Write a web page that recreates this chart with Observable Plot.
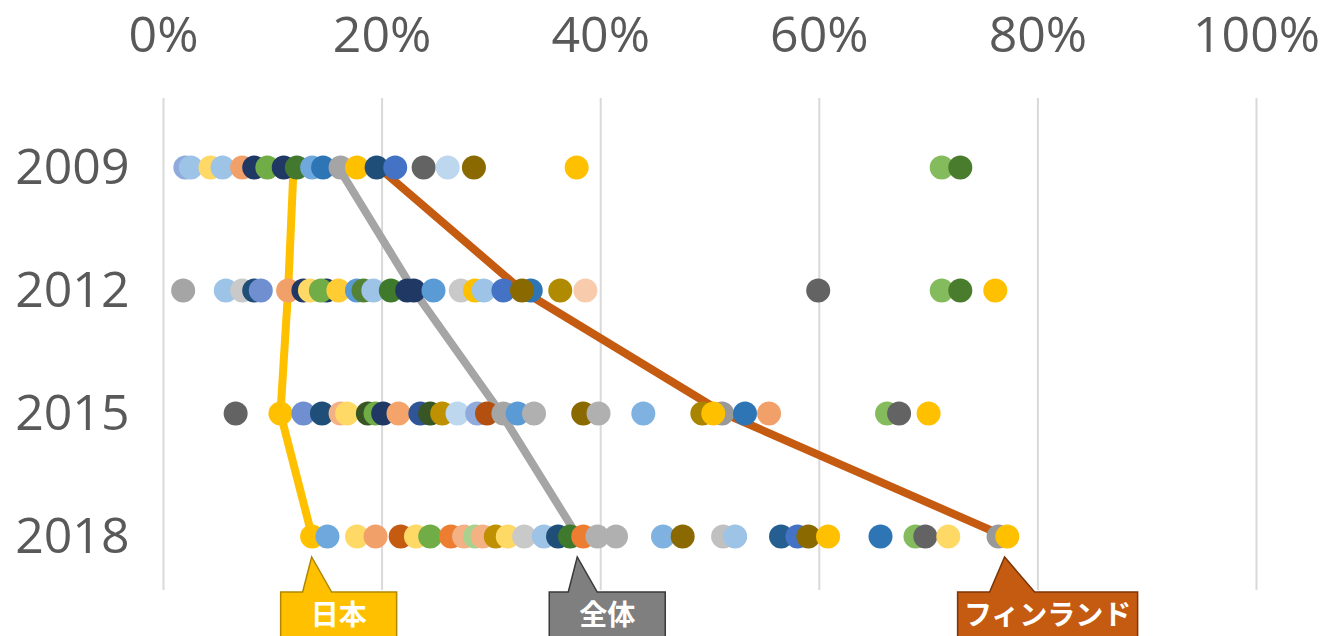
<!DOCTYPE html>
<html>
<head>
<meta charset="utf-8">
<script src="https://cdn.jsdelivr.net/npm/d3@7"></script>
<script src="https://cdn.jsdelivr.net/npm/@observablehq/plot@0.6"></script>
<style>
  html, body { margin: 0; padding: 0; background: #ffffff; }
  #chart { width: 1323px; height: 636px; overflow: hidden; }
</style>
</head>
<body>
<div id="chart"></div>
<script>
// ---------- data ----------
const years = ["2009", "2012", "2015", "2018"];
const xTicks = [0, 20, 40, 60, 80, 100];

const vals2009 = [2.0, 2.5, 4.3, 5.4, 7.2, 8.3, 9.5, 11.0, 12.2, 13.6, 14.6, 16.2, 17.7, 19.5, 21.2, 23.8, 26.0, 28.4, 37.8, 71.2, 72.9];
const cols2009 = ["#8faadc", "#9dc3e6", "#ffd966", "#9dc3e6", "#f2a06a", "#1f3864", "#70ad47", "#203864", "#43782f", "#6fa8dc", "#2e75b6", "#a5a5a5", "#ffc000", "#1f4e79", "#4472c4", "#636363", "#bdd7ee", "#8a6a00", "#ffc000", "#84bb5c", "#4a7c2e"];

const vals2012 = [1.8, 5.7, 7.2, 8.3, 8.9, 11.4, 12.8, 13.4, 14.9, 14.4, 16.0, 17.7, 18.3, 19.2, 20.8, 22.3, 22.9, 24.7, 27.2, 28.5, 29.3, 31.1, 33.6, 32.8, 36.3, 38.6, 59.9, 71.2, 72.9, 76.1];
const cols2012 = ["#a5a5a5", "#9dc3e6", "#c9c9c9", "#1f4e79", "#6f8fd0", "#f2a06a", "#203864", "#ffd966", "#1f3864", "#70ad47", "#ffcc33", "#5b9bd5", "#548235", "#9dc3e6", "#3f7a2c", "#203864", "#1f3864", "#5b9bd5", "#c9c9c9", "#ffc000", "#9dc3e6", "#4472c4", "#2e75b6", "#8a6a00", "#b08a00", "#f8cbad", "#636363", "#84bb5c", "#4a7c2e", "#ffc000"];

const vals2015 = [6.6, 10.7, 12.8, 14.5, 16.2, 16.8, 18.7, 19.4, 20.1, 21.5, 23.5, 24.4, 25.5, 26.9, 28.7, 29.6, 31.1, 32.4, 33.9, 38.4, 39.8, 43.9, 49.3, 51.1, 50.3, 53.2, 55.4, 66.2, 67.3, 70.0];
const cols2015 = ["#636363", "#ffc000", "#6f8fd0", "#1f4e79", "#f4b183", "#ffd966", "#375623", "#70ad47", "#203864", "#f4a46a", "#2f5597", "#375623", "#bf9000", "#bdd7ee", "#8faadc", "#b4500f", "#a5a5a5", "#5b9bd5", "#b0b0b0", "#8a6a00", "#b0b0b0", "#7fb2e0", "#a88400", "#999999", "#ffc000", "#2e75b6", "#f2a06a", "#84bb5c", "#636363", "#ffc000"];

const vals2018 = [13.6, 15.0, 17.7, 19.4, 21.7, 23.1, 24.4, 26.3, 27.5, 28.5, 29.2, 30.4, 31.5, 33.0, 34.8, 36.1, 37.2, 38.4, 39.7, 41.4, 45.7, 47.5, 51.2, 52.3, 56.5, 58.0, 59.0, 60.8, 65.6, 68.8, 69.7, 71.8, 76.4, 77.2];
const cols2018 = ["#ffc000", "#6fa8dc", "#ffd966", "#f2a06a", "#c55a11", "#ffd966", "#70ad47", "#ed7d31", "#f4b183", "#a9d18e", "#f4b183", "#bf9000", "#ffd966", "#c9c9c9", "#9dc3e6", "#1f4e79", "#3f7a2c", "#ed7d31", "#b0b0b0", "#b0b0b0", "#7fb2e0", "#8a6a00", "#c0c0c0", "#9dc3e6", "#255e91", "#4472c4", "#8a6a00", "#ffc000", "#2e75b6", "#84bb5c", "#636363", "#ffd966", "#999999", "#ffc000"];

const japan   = [11.9, 11.4, 10.7, 13.6];
const overall = [16.0, 22.9, 30.9, 37.9];
const finland = [19.7, 32.8, 51.3, 77.0];

const seriesNames  = ["日本", "全体", "フィンランド"];
const seriesColors = ["#ffc000", "#a5a5a5", "#c55a11"];
const calloutFill   = ["#ffc000", "#7f7f7f", "#c55a11"];
const calloutStroke = ["#b08800", "#3a3a3a", "#7a3508"];

// ---------- build tables ----------
const rowVals = [vals2009, vals2012, vals2015, vals2018];
const rowCols = [cols2009, cols2012, cols2015, cols2018];
const points = [];
years.forEach((y, i) => rowVals[i].forEach((v, j) => points.push({year: y, v, c: rowCols[i][j]})));

const lineSeries = [japan, overall, finland];
const lineData = [];
lineSeries.forEach((s, k) => s.forEach((v, i) => lineData.push({name: seriesNames[k], year: years[i], v, c: seriesColors[k]})));

const FONT = "'Open Sans', 'Noto Sans CJK JP', sans-serif";

const chart = Plot.plot({
  width: 1323,
  height: 636,
  marginLeft: 163,
  marginRight: 67,
  marginTop: 98,
  marginBottom: 46,
  x: {domain: [0, 100], axis: null},
  y: {type: "point", domain: years, range: [166, 537], padding: 0, axis: null},
  color: {type: "identity"},
  style: {fontFamily: FONT, color: "#595959", background: "#ffffff", overflow: "visible"},
  marks: [
    Plot.ruleX(xTicks, {stroke: "#d9d9d9", strokeWidth: 2}),
    Plot.axisX(xTicks, {anchor: "top", label: null, tickSize: 0, tickPadding: 47, fontSize: 50, tickFormat: d => d + "%", fill: "#595959"}),
    Plot.axisY({anchor: "left", label: null, tickSize: 0, tickPadding: 34, fontSize: 50, fill: "#595959"}),
    Plot.line(lineData, {x: "v", y: "year", z: "name", stroke: "c", strokeWidth: 8, strokeLinejoin: "round"}),
    Plot.dot(points, {x: "v", y: "year", fill: "c", r: 12, stroke: null})
  ]
});
document.getElementById("chart").appendChild(chart);

// ---------- callouts (positioned from the x scale) ----------
const xs = chart.scale("x");
const svg = d3.select(chart);
const boxW = [116, 116, 180];
const boxLeft = [-31, -28, -47];
lineSeries.forEach((s, k) => {
  const tx = xs.apply(s[3]);
  const tipY = 557, topY = 592, botY = 660;
  const L = tx + boxLeft[k], R = L + boxW[k];
  const bl = tx - (k === 2 ? 15 : 9), br = tx + (k === 2 ? 30 : 20);
  const path = `M${L},${topY} L${bl},${topY} L${tx},${tipY} L${br},${topY} L${R},${topY} L${R},${botY} L${L},${botY} Z`;
  svg.append("path").attr("d", path).attr("fill", calloutFill[k]).attr("stroke", calloutStroke[k]).attr("stroke-width", 1.5);
  svg.append("text")
    .attr("x", (L + R) / 2).attr("y", 625)
    .attr("text-anchor", "middle")
    .attr("fill", "#ffffff")
    .attr("font-weight", "bold")
    .attr("font-size", 28)
    .attr("font-family", "'Noto Sans CJK JP', sans-serif")
    .text(seriesNames[k]);
});
</script>
</body>
</html>
